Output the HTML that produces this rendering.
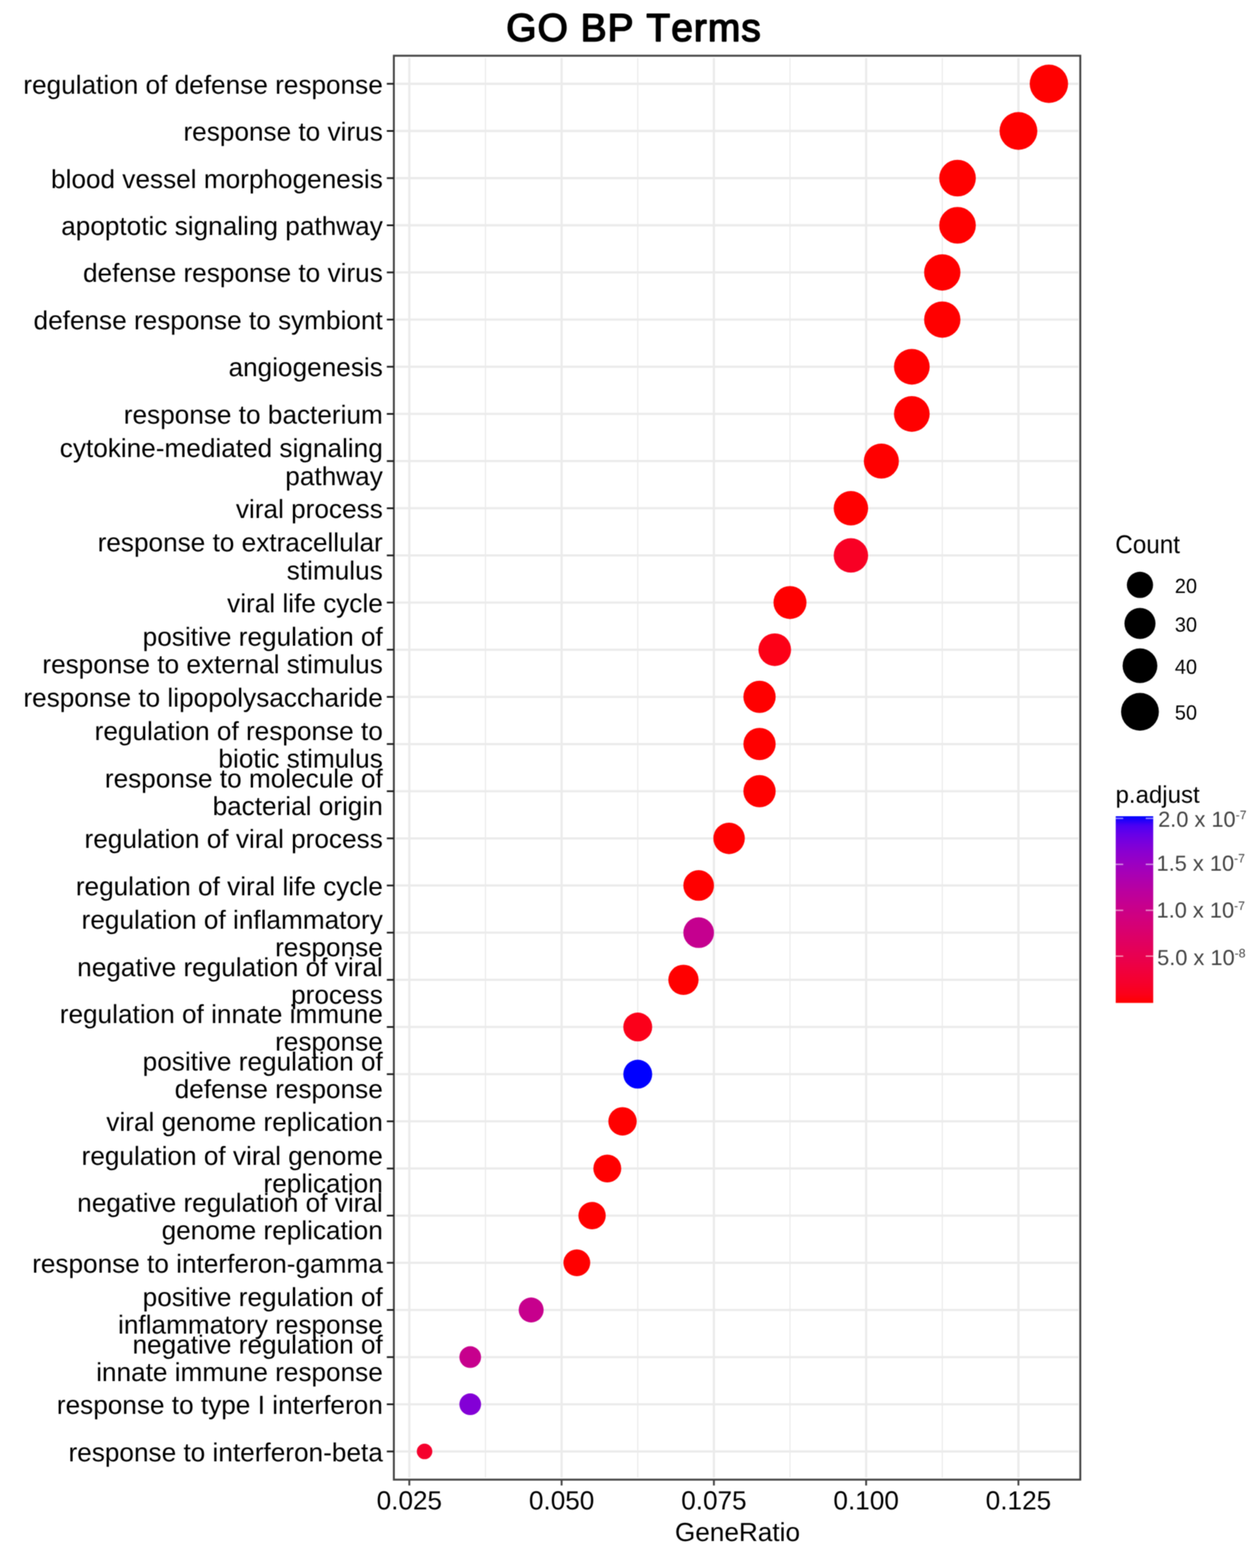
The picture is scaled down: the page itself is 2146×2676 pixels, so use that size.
<!DOCTYPE html>
<html lang="en"><head><meta charset="utf-8"><title>GO BP Terms</title>
<style>html,body{margin:0;padding:0;background:#fff}body{width:2146px;height:2676px;overflow:hidden}svg{display:block}text{font-family:"Liberation Sans",sans-serif;fill:#000;font-kerning:none;font-variant-ligatures:none;text-rendering:geometricPrecision}.ax{font-size:44.7px}.lt{font-size:41px}.ll{font-size:33.6px}.cl{font-size:37.2px;fill:#444}.sup{font-size:21px}.title{font-size:66.5px;letter-spacing:1.7px;stroke:#000;stroke-width:2.4px;stroke-linejoin:round}</style></head><body>
<svg width="2146" height="2676" viewBox="0 0 2146 2676">
<defs><filter id="soft" filterUnits="userSpaceOnUse" x="0" y="0" width="2146" height="2676" color-interpolation-filters="sRGB"><feConvolveMatrix order="3" kernelMatrix="1 2 1 2 4 2 1 2 1" divisor="16" edgeMode="duplicate" preserveAlpha="true"/></filter><linearGradient id="cb" x1="0" y1="1" x2="0" y2="0">
<stop offset="0.00" stop-color="#FF0000"/>
<stop offset="0.05" stop-color="#FB001A"/>
<stop offset="0.10" stop-color="#F6002A"/>
<stop offset="0.15" stop-color="#F20037"/>
<stop offset="0.20" stop-color="#ED0044"/>
<stop offset="0.25" stop-color="#E80050"/>
<stop offset="0.30" stop-color="#E3005B"/>
<stop offset="0.35" stop-color="#DD0066"/>
<stop offset="0.40" stop-color="#D70072"/>
<stop offset="0.45" stop-color="#D1007D"/>
<stop offset="0.50" stop-color="#CA0088"/>
<stop offset="0.55" stop-color="#C20094"/>
<stop offset="0.60" stop-color="#BA009F"/>
<stop offset="0.65" stop-color="#B000AB"/>
<stop offset="0.70" stop-color="#A600B7"/>
<stop offset="0.75" stop-color="#9A00C3"/>
<stop offset="0.80" stop-color="#8D00CE"/>
<stop offset="0.85" stop-color="#7C00DA"/>
<stop offset="0.90" stop-color="#6800E7"/>
<stop offset="0.95" stop-color="#4B00F3"/>
<stop offset="1.00" stop-color="#0000FF"/>
</linearGradient><clipPath id="pc"><rect x="672.4" y="95.1" width="1171.9" height="2430.1"/></clipPath></defs>
<g filter="url(#soft)">
<rect width="2146" height="2676" fill="#fff"/>
<g clip-path="url(#pc)">
<g stroke="#ebebeb" stroke-width="2" fill="none">
<line x1="828.8" x2="828.8" y1="98.9" y2="2521.4"/>
<line x1="1088.8" x2="1088.8" y1="98.9" y2="2521.4"/>
<line x1="1348.7" x2="1348.7" y1="98.9" y2="2521.4"/>
<line x1="1608.7" x2="1608.7" y1="98.9" y2="2521.4"/>
</g><g stroke="#ebebeb" stroke-width="3.8" fill="none">
<line x1="698.8" x2="698.8" y1="98.9" y2="2521.4"/>
<line x1="958.8" x2="958.8" y1="98.9" y2="2521.4"/>
<line x1="1218.8" x2="1218.8" y1="98.9" y2="2521.4"/>
<line x1="1478.7" x2="1478.7" y1="98.9" y2="2521.4"/>
<line x1="1738.7" x2="1738.7" y1="98.9" y2="2521.4"/>
<line x1="675.6" x2="1841.1" y1="143.0" y2="143.0"/>
<line x1="675.6" x2="1841.1" y1="223.5" y2="223.5"/>
<line x1="675.6" x2="1841.1" y1="304.0" y2="304.0"/>
<line x1="675.6" x2="1841.1" y1="384.5" y2="384.5"/>
<line x1="675.6" x2="1841.1" y1="464.9" y2="464.9"/>
<line x1="675.6" x2="1841.1" y1="545.4" y2="545.4"/>
<line x1="675.6" x2="1841.1" y1="625.9" y2="625.9"/>
<line x1="675.6" x2="1841.1" y1="706.4" y2="706.4"/>
<line x1="675.6" x2="1841.1" y1="786.9" y2="786.9"/>
<line x1="675.6" x2="1841.1" y1="867.4" y2="867.4"/>
<line x1="675.6" x2="1841.1" y1="947.9" y2="947.9"/>
<line x1="675.6" x2="1841.1" y1="1028.3" y2="1028.3"/>
<line x1="675.6" x2="1841.1" y1="1108.8" y2="1108.8"/>
<line x1="675.6" x2="1841.1" y1="1189.3" y2="1189.3"/>
<line x1="675.6" x2="1841.1" y1="1269.8" y2="1269.8"/>
<line x1="675.6" x2="1841.1" y1="1350.3" y2="1350.3"/>
<line x1="675.6" x2="1841.1" y1="1430.8" y2="1430.8"/>
<line x1="675.6" x2="1841.1" y1="1511.2" y2="1511.2"/>
<line x1="675.6" x2="1841.1" y1="1591.7" y2="1591.7"/>
<line x1="675.6" x2="1841.1" y1="1672.2" y2="1672.2"/>
<line x1="675.6" x2="1841.1" y1="1752.7" y2="1752.7"/>
<line x1="675.6" x2="1841.1" y1="1833.2" y2="1833.2"/>
<line x1="675.6" x2="1841.1" y1="1913.7" y2="1913.7"/>
<line x1="675.6" x2="1841.1" y1="1994.2" y2="1994.2"/>
<line x1="675.6" x2="1841.1" y1="2074.6" y2="2074.6"/>
<line x1="675.6" x2="1841.1" y1="2155.1" y2="2155.1"/>
<line x1="675.6" x2="1841.1" y1="2235.6" y2="2235.6"/>
<line x1="675.6" x2="1841.1" y1="2316.1" y2="2316.1"/>
<line x1="675.6" x2="1841.1" y1="2396.6" y2="2396.6"/>
<line x1="675.6" x2="1841.1" y1="2477.1" y2="2477.1"/>
</g>
<circle cx="1790.7" cy="143.0" r="32.75" fill="#FF0000"/>
<circle cx="1738.7" cy="223.5" r="32.27" fill="#FF0000"/>
<circle cx="1634.7" cy="304.0" r="31.27" fill="#FF0000"/>
<circle cx="1634.7" cy="384.5" r="31.27" fill="#FF0000"/>
<circle cx="1608.7" cy="464.9" r="31.01" fill="#FF0000"/>
<circle cx="1608.7" cy="545.4" r="31.01" fill="#FF0000"/>
<circle cx="1556.7" cy="625.9" r="30.48" fill="#FF0000"/>
<circle cx="1556.7" cy="706.4" r="30.48" fill="#FF0000"/>
<circle cx="1504.7" cy="786.9" r="29.93" fill="#FF0000"/>
<circle cx="1452.7" cy="867.4" r="29.36" fill="#FF0000"/>
<circle cx="1452.7" cy="947.9" r="29.36" fill="#F80024"/>
<circle cx="1348.7" cy="1028.3" r="28.17" fill="#FF0000"/>
<circle cx="1322.7" cy="1108.8" r="27.85" fill="#FC0016"/>
<circle cx="1296.7" cy="1189.3" r="27.53" fill="#FF0000"/>
<circle cx="1296.7" cy="1269.8" r="27.53" fill="#FF0000"/>
<circle cx="1296.7" cy="1350.3" r="27.53" fill="#FF0000"/>
<circle cx="1244.7" cy="1430.8" r="26.87" fill="#FF0000"/>
<circle cx="1192.8" cy="1511.2" r="26.17" fill="#FF0000"/>
<circle cx="1192.8" cy="1591.7" r="26.17" fill="#C5008F"/>
<circle cx="1166.8" cy="1672.2" r="25.81" fill="#FF0000"/>
<circle cx="1088.8" cy="1752.7" r="24.64" fill="#FB001A"/>
<circle cx="1088.8" cy="1833.2" r="24.64" fill="#0000FF"/>
<circle cx="1062.8" cy="1913.7" r="24.23" fill="#FF0000"/>
<circle cx="1036.8" cy="1994.2" r="23.80" fill="#FF0000"/>
<circle cx="1010.8" cy="2074.6" r="23.35" fill="#FF0000"/>
<circle cx="984.8" cy="2155.1" r="22.88" fill="#FF0000"/>
<circle cx="906.8" cy="2235.6" r="21.31" fill="#C7008D"/>
<circle cx="802.8" cy="2316.1" r="18.52" fill="#C7008D"/>
<circle cx="802.8" cy="2396.6" r="18.52" fill="#8300D6"/>
<circle cx="724.8" cy="2477.1" r="13.25" fill="#F5002D"/>
</g>
<rect x="672.4" y="95.1" width="1171.9" height="2430.1" fill="none" stroke="#444" stroke-width="3.3"/>
<g stroke="#1c1c1c" stroke-width="3">
<line x1="660.4" x2="672.4" y1="143.0" y2="143.0"/>
<line x1="660.4" x2="672.4" y1="223.5" y2="223.5"/>
<line x1="660.4" x2="672.4" y1="304.0" y2="304.0"/>
<line x1="660.4" x2="672.4" y1="384.5" y2="384.5"/>
<line x1="660.4" x2="672.4" y1="464.9" y2="464.9"/>
<line x1="660.4" x2="672.4" y1="545.4" y2="545.4"/>
<line x1="660.4" x2="672.4" y1="625.9" y2="625.9"/>
<line x1="660.4" x2="672.4" y1="706.4" y2="706.4"/>
<line x1="660.4" x2="672.4" y1="786.9" y2="786.9"/>
<line x1="660.4" x2="672.4" y1="867.4" y2="867.4"/>
<line x1="660.4" x2="672.4" y1="947.9" y2="947.9"/>
<line x1="660.4" x2="672.4" y1="1028.3" y2="1028.3"/>
<line x1="660.4" x2="672.4" y1="1108.8" y2="1108.8"/>
<line x1="660.4" x2="672.4" y1="1189.3" y2="1189.3"/>
<line x1="660.4" x2="672.4" y1="1269.8" y2="1269.8"/>
<line x1="660.4" x2="672.4" y1="1350.3" y2="1350.3"/>
<line x1="660.4" x2="672.4" y1="1430.8" y2="1430.8"/>
<line x1="660.4" x2="672.4" y1="1511.2" y2="1511.2"/>
<line x1="660.4" x2="672.4" y1="1591.7" y2="1591.7"/>
<line x1="660.4" x2="672.4" y1="1672.2" y2="1672.2"/>
<line x1="660.4" x2="672.4" y1="1752.7" y2="1752.7"/>
<line x1="660.4" x2="672.4" y1="1833.2" y2="1833.2"/>
<line x1="660.4" x2="672.4" y1="1913.7" y2="1913.7"/>
<line x1="660.4" x2="672.4" y1="1994.2" y2="1994.2"/>
<line x1="660.4" x2="672.4" y1="2074.6" y2="2074.6"/>
<line x1="660.4" x2="672.4" y1="2155.1" y2="2155.1"/>
<line x1="660.4" x2="672.4" y1="2235.6" y2="2235.6"/>
<line x1="660.4" x2="672.4" y1="2316.1" y2="2316.1"/>
<line x1="660.4" x2="672.4" y1="2396.6" y2="2396.6"/>
<line x1="660.4" x2="672.4" y1="2477.1" y2="2477.1"/>
</g><g stroke="#444" stroke-width="3.2">
<line x1="698.8" x2="698.8" y1="2525.2" y2="2535.2"/>
<line x1="958.8" x2="958.8" y1="2525.2" y2="2535.2"/>
<line x1="1218.8" x2="1218.8" y1="2525.2" y2="2535.2"/>
<line x1="1478.7" x2="1478.7" y1="2525.2" y2="2535.2"/>
<line x1="1738.7" x2="1738.7" y1="2525.2" y2="2535.2"/>
</g>
<g class="ax" text-anchor="end">
<text x="653.5" y="159.5">regulation of defense response</text>
<text x="653.5" y="240.0">response to virus</text>
<text x="653.5" y="320.5">blood vessel morphogenesis</text>
<text x="653.5" y="401.0">apoptotic signaling pathway</text>
<text x="653.5" y="481.4">defense response to virus</text>
<text x="653.5" y="561.9">defense response to symbiont</text>
<text x="653.5" y="642.4">angiogenesis</text>
<text x="653.5" y="722.9">response to bacterium</text>
<text x="653.5" y="780.4">cytokine-mediated signaling</text>
<text x="653.5" y="827.5">pathway</text>
<text x="653.5" y="883.9">viral process</text>
<text x="653.5" y="941.4">response to extracellular</text>
<text x="653.5" y="988.5">stimulus</text>
<text x="653.5" y="1044.8">viral life cycle</text>
<text x="653.5" y="1102.3">positive regulation of</text>
<text x="653.5" y="1149.4">response to external stimulus</text>
<text x="653.5" y="1205.8">response to lipopolysaccharide</text>
<text x="653.5" y="1263.3">regulation of response to</text>
<text x="653.5" y="1310.4">biotic stimulus</text>
<text x="653.5" y="1343.8">response to molecule of</text>
<text x="653.5" y="1390.9">bacterial origin</text>
<text x="653.5" y="1447.3">regulation of viral process</text>
<text x="653.5" y="1527.7">regulation of viral life cycle</text>
<text x="653.5" y="1585.2">regulation of inflammatory</text>
<text x="653.5" y="1632.3">response</text>
<text x="653.5" y="1665.7">negative regulation of viral</text>
<text x="653.5" y="1712.8">process</text>
<text x="653.5" y="1746.2">regulation of innate immune</text>
<text x="653.5" y="1793.3">response</text>
<text x="653.5" y="1826.7">positive regulation of</text>
<text x="653.5" y="1873.8">defense response</text>
<text x="653.5" y="1930.2">viral genome replication</text>
<text x="653.5" y="1987.7">regulation of viral genome</text>
<text x="653.5" y="2034.8">replication</text>
<text x="653.5" y="2068.1">negative regulation of viral</text>
<text x="653.5" y="2115.2">genome replication</text>
<text x="653.5" y="2171.6">response to interferon-gamma</text>
<text x="653.5" y="2229.1">positive regulation of</text>
<text x="653.5" y="2276.2">inflammatory response</text>
<text x="653.5" y="2309.6">negative regulation of</text>
<text x="653.5" y="2356.7">innate immune response</text>
<text x="653.5" y="2413.1">response to type I interferon</text>
<text x="653.5" y="2493.6">response to interferon-beta</text>
</g>
<g class="ax" text-anchor="middle">
<text x="698.8" y="2576.4">0.025</text>
<text x="958.8" y="2576.4">0.050</text>
<text x="1218.8" y="2576.4">0.075</text>
<text x="1478.7" y="2576.4">0.100</text>
<text x="1738.7" y="2576.4">0.125</text>
<text x="1259" y="2629.8">GeneRatio</text>
</g>
<text class="title" x="1082.4" y="69.6" text-anchor="middle">GO BP Terms</text>
<text class="lt" transform="translate(1904 943.8) scale(1.01 1.07)">Count</text>
<circle cx="1946.2" cy="998.2" r="22.38" fill="#000"/>
<text class="ll" transform="translate(2005.8 1011.6) scale(1.01 1.04)">20</text>
<circle cx="1946.2" cy="1064.1" r="26.52" fill="#000"/>
<text class="ll" transform="translate(2005.8 1077.5) scale(1.01 1.04)">30</text>
<circle cx="1946.2" cy="1136.2" r="29.65" fill="#000"/>
<text class="ll" transform="translate(2005.8 1149.6) scale(1.01 1.04)">40</text>
<circle cx="1946.2" cy="1214.7" r="32.27" fill="#000"/>
<text class="ll" transform="translate(2005.8 1228.1) scale(1.01 1.04)">50</text>
<text class="lt" x="1904.5" y="1370">p.adjust</text>
<rect x="1904.8" y="1393" width="64" height="318.6" fill="url(#cb)"/>
<g stroke="#fff" stroke-opacity="0.55" stroke-width="2.4">
<line x1="1904.8" x2="1917.6" y1="1396.6" y2="1396.6"/><line x1="1956" x2="1968.8" y1="1396.6" y2="1396.6"/>
<line x1="1904.8" x2="1917.6" y1="1475.1" y2="1475.1"/><line x1="1956" x2="1968.8" y1="1475.1" y2="1475.1"/>
<line x1="1904.8" x2="1917.6" y1="1553.6" y2="1553.6"/><line x1="1956" x2="1968.8" y1="1553.6" y2="1553.6"/>
<line x1="1904.8" x2="1917.6" y1="1631.8" y2="1631.8"/><line x1="1956" x2="1968.8" y1="1631.8" y2="1631.8"/>
</g>
<text class="cl" x="1977.2" y="1410.7">2.0 x 10<tspan class="sup" dy="-13.2">-7</tspan></text>
<text class="cl" x="1974.5" y="1485.6">1.5 x 10<tspan class="sup" dy="-13.2">-7</tspan></text>
<text class="cl" x="1974.5" y="1565.9">1.0 x 10<tspan class="sup" dy="-13.2">-7</tspan></text>
<text class="cl" x="1975.5" y="1647.3">5.0 x 10<tspan class="sup" dy="-13.2">-8</tspan></text>
</g>
</svg></body></html>
